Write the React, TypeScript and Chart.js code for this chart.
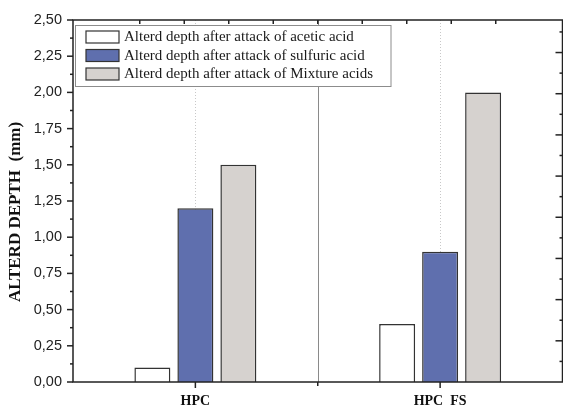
import React, { useEffect, useRef } from 'react';
import { Chart, registerables } from 'chart.js';

Chart.register(...registerables);

const categories = ['HPC', 'HPC  FS'];
const seriesLabels = [
  'Alterd depth after attack of acetic acid',
  'Alterd depth after attack of sulfuric acid',
  'Alterd depth after attack of Mixture acids',
];
const aceticValues = [0.1, 0.4];
const sulfuricValues = [1.2, 0.9];
const mixtureValues = [1.5, 2.0];
const yMin = 0;
const yMax = 2.5;
const yStep = 0.25;
const yTitle = 'ALTERD DEPTH  (mm)';

const seriesColors = ['#ffffff', '#5f6fae', '#d6d2cf'];
const AXIS = '#222222';

const fmt = (v: number) => v.toFixed(2).replace('.', ',');

const framePlugin = {
  id: 'framePlugin',
  beforeDatasetsDraw(chart: any) {
    const { ctx, chartArea: a, scales } = chart;
    const x = scales.x;
    ctx.save();
    // dotted lines at category centers
    ctx.strokeStyle = '#c8c8c8';
    ctx.lineWidth = 1;
    ctx.setLineDash([1, 2]);
    categories.forEach((_, i) => {
      const px = Math.round(x.getPixelForValue(i)) + 0.5;
      ctx.beginPath();
      ctx.moveTo(px, a.top);
      ctx.lineTo(px, a.bottom);
      ctx.stroke();
    });
    ctx.setLineDash([]);
    // divider lines between categories
    ctx.strokeStyle = '#8a8a8a';
    for (let i = 1; i < categories.length; i++) {
      const px = Math.round((x.getPixelForValue(i - 1) + x.getPixelForValue(i)) / 2) + 0.5;
      ctx.beginPath();
      ctx.moveTo(px, a.top);
      ctx.lineTo(px, a.bottom);
      ctx.stroke();
    }
    ctx.restore();
  },
  afterDraw(chart: any) {
    const { ctx, chartArea: a, scales } = chart;
    const { x, y, x2, y2 } = scales;
    ctx.save();
    ctx.strokeStyle = AXIS;
    ctx.lineWidth = 1.5;
    const seg = (x1: number, y1: number, x2_: number, y2_: number) => {
      ctx.beginPath();
      ctx.moveTo(x1, y1);
      ctx.lineTo(x2_, y2_);
      ctx.stroke();
    };
    // frame
    ctx.strokeRect(a.left, a.top, a.right - a.left, a.bottom - a.top);
    // left ticks (outward)
    for (let v = yMin; v <= yMax + 1e-9; v += yStep / 2) {
      const major = Math.abs(v / yStep - Math.round(v / yStep)) < 1e-6;
      const py = y.getPixelForValue(v);
      seg(a.left, py, a.left - (major ? 6 : 3), py);
    }
    // bottom ticks (outward)
    categories.forEach((_, i) => {
      const px = x.getPixelForValue(i);
      seg(px, a.bottom, px, a.bottom + 6);
    });
    for (let i = 1; i < categories.length; i++) {
      const px = (x.getPixelForValue(i - 1) + x.getPixelForValue(i)) / 2;
      seg(px, a.bottom, px, a.bottom + 4);
    }
    // top ticks (inward)
    for (let v = x2.min + 1; v < x2.max; v += 1) {
      const px = x2.getPixelForValue(v);
      seg(px, a.top, px, a.top + 4);
    }
    // right ticks (inward)
    for (let v = y2.min + 0.5; v < y2.max; v += 0.5) {
      const major = Math.abs(v - Math.round(v)) < 1e-6;
      const py = y2.getPixelForValue(v);
      seg(a.right, py, a.right - (major ? 7 : 3), py);
    }

    // y axis title
    ctx.save();
    ctx.translate(16, 212);
    ctx.rotate(-Math.PI / 2);
    ctx.fillStyle = '#111';
    ctx.font = 'bold 17px "Liberation Serif", "Times New Roman", serif';
    ctx.textAlign = 'center';
    ctx.textBaseline = 'middle';
    ctx.fillText(yTitle, 0, 0);
    ctx.restore();

    // legend
    const lx = 75.5, ly = 25.5, lw = 315.5, lh = 61;
    ctx.fillStyle = '#ffffff';
    ctx.fillRect(lx, ly, lw, lh);
    ctx.strokeStyle = '#8c8c8c';
    ctx.lineWidth = 1;
    ctx.strokeRect(lx, ly, lw, lh);
    ctx.font = '15px "Liberation Serif", "Times New Roman", serif';
    ctx.textAlign = 'left';
    ctx.textBaseline = 'middle';
    chart.data.datasets.forEach((ds: any, i: number) => {
      const sy = 31 + i * 18.5;
      ctx.fillStyle = ds.backgroundColor;
      ctx.fillRect(86, sy, 33, 12);
      ctx.strokeStyle = '#333';
      ctx.lineWidth = 1.2;
      ctx.strokeRect(86, sy, 33, 12);
      ctx.fillStyle = '#1a1a1a';
      ctx.fillText(ds.label, 124, sy + 6.5);
    });
    ctx.restore();
  },
};

export default function App() {
  const ref = useRef<HTMLCanvasElement | null>(null);
  useEffect(() => {
    if (!ref.current) return;
    const valueSets = [aceticValues, sulfuricValues, mixtureValues];
    const chart = new Chart(ref.current, {
      type: 'bar',
      data: {
        labels: categories,
        datasets: valueSets.map((vals, i) => ({
          label: seriesLabels[i],
          data: vals,
          backgroundColor: seriesColors[i],
          borderColor: '#333333',
          borderWidth: 1.5,
          categoryPercentage: 0.527,
          barPercentage: 0.837,
        })),
      },
      options: {
        responsive: false,
        animation: false,
        layout: { padding: { top: 20, right: 0.5, left: 0, bottom: 0 } },
        plugins: {
          legend: { display: false },
          tooltip: { enabled: false },
        },
        scales: {
          x: {
            type: 'category',
            offset: true,
            grid: { display: false, drawTicks: false },
            border: { display: false },
            ticks: {
              color: '#111',
              padding: 11,
              maxRotation: 0,
              font: { family: '"Liberation Serif", "Times New Roman", serif', size: 14, weight: 'bold' },
            },
            afterFit: (s: any) => { s.height = 26; },
          },
          x2: {
            type: 'linear',
            position: 'top',
            min: 0,
            max: 10,
            grid: { display: false, drawTicks: false },
            border: { display: false },
            ticks: { display: false },
            afterFit: (s: any) => { s.height = 0; },
          },
          y: {
            type: 'linear',
            min: yMin,
            max: yMax,
            grid: { display: false, drawTicks: false },
            border: { display: false },
            ticks: {
              stepSize: yStep,
              color: '#222',
              padding: 11,
              font: { family: '"Liberation Sans", Arial, sans-serif', size: 14.5 },
              callback: (v: any) => fmt(Number(v)),
            },
            afterFit: (s: any) => { s.width = 73; },
          },
          y2: {
            type: 'linear',
            position: 'right',
            min: 0,
            max: 8.79,
            grid: { display: false, drawTicks: false },
            border: { display: false },
            ticks: { display: false },
            afterFit: (s: any) => { s.width = 0; },
          },
        },
      },
      plugins: [framePlugin],
    } as any);
    return () => chart.destroy();
  }, []);
  return (
    <div style={{ position: 'absolute', left: 0, top: 0, width: 563, height: 408, background: '#fff' }}>
      <canvas ref={ref} width={563} height={408} style={{ display: 'block' }} />
    </div>
  );
}
